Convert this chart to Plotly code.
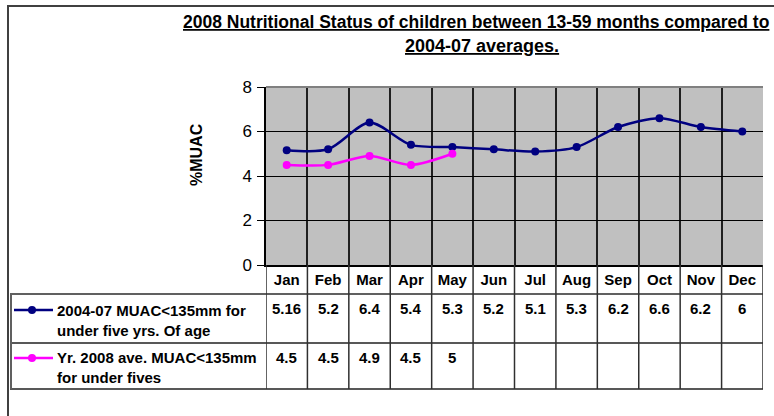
import plotly.graph_objects as go

months = ["Jan", "Feb", "Mar", "Apr", "May", "Jun", "Jul", "Aug", "Sep", "Oct", "Nov", "Dec"]
avg_0407 = [5.16, 5.2, 6.4, 5.4, 5.3, 5.2, 5.1, 5.3, 6.2, 6.6, 6.2, 6]
avg_2008 = [4.5, 4.5, 4.9, 4.5, 5]
avg_0407_label = ["2004-07 MUAC&lt;135mm for", "under five yrs. Of age"]
avg_2008_label = ["Yr. 2008 ave. MUAC&lt;135mm", "for under fives"]
title_lines = ["2008 Nutritional Status of children between 13-59 months compared to",
               "2004-07 averages."]
y_title = "%MUAC"
y_ticks = [0, 2, 4, 6, 8]

W, H = 774, 416
L, R, T, B = 266, 763, 87, 265


def px(x):
    return (x - L) / (R - L)


def py(y):
    return (B - y) / (B - T)


NAVY = "#000080"
MAG = "#FF00FF"
FONT = "Liberation Sans, Arial, sans-serif"

fig = go.Figure()
fig.add_trace(go.Scatter(x=months, y=avg_0407, mode="lines+markers",
                         line=dict(color=NAVY, width=2.5, shape="spline", smoothing=0.8),
                         marker=dict(size=8, color=NAVY), showlegend=False))
fig.add_trace(go.Scatter(x=months[:len(avg_2008)], y=avg_2008, mode="lines+markers",
                         line=dict(color=MAG, width=2.5, shape="spline", smoothing=0.8),
                         marker=dict(size=8, color=MAG), showlegend=False))

shapes = []
annotations = []

# outer frame (top and left)
shapes.append(dict(type="line", xref="paper", yref="paper", x0=px(7), x1=px(780), y0=py(6), y1=py(6),
                   line=dict(color="#404040", width=2)))
shapes.append(dict(type="line", xref="paper", yref="paper", x0=px(8), x1=px(8), y0=py(6), y1=py(420),
                   line=dict(color="#404040", width=2)))
# plot top border
shapes.append(dict(type="line", xref="paper", yref="paper", x0=0, x1=1, y0=1, y1=1,
                   line=dict(color="#808080", width=2)))

# table horizontal lines
for yy, w, c in [(294, 2, "#606060"), (343, 1.5, "#202020"), (389, 1.5, "#202020")]:
    shapes.append(dict(type="line", xref="paper", yref="paper", x0=px(10), x1=1, y0=py(yy), y1=py(yy),
                       line=dict(color=c, width=w)))
shapes.append(dict(type="line", xref="paper", yref="paper", x0=px(11), x1=px(11), y0=py(294), y1=py(389),
                   line=dict(color="#606060", width=2)))
# table vertical column lines
for k in range(len(months) + 1):
    shapes.append(dict(type="line", xref="x", yref="paper", x0=k - 0.5, x1=k - 0.5, y0=0, y1=py(389),
                       line=dict(color="#303030", width=1.5)))

# legend keys in table
for yy, col in [(310, NAVY), (358, MAG)]:
    shapes.append(dict(type="line", xref="paper", yref="paper", x0=px(14), x1=px(53), y0=py(yy), y1=py(yy),
                       line=dict(color=col, width=2.5)))
    shapes.append(dict(type="circle", xref="paper", yref="paper", xsizemode="pixel", ysizemode="pixel",
                       xanchor=px(32), yanchor=py(yy), x0=-4, x1=4, y0=-4, y1=4,
                       fillcolor=col, line=dict(color=col, width=0)))

# legend texts
for lines, y0 in [(avg_0407_label, 310), (avg_2008_label, 357)]:
    for j, t in enumerate(lines):
        annotations.append(dict(text=f"<b>{t}</b>", xref="paper", yref="paper", x=px(55), y=py(y0 + 20 * j),
                                xanchor="left", yanchor="middle", showarrow=False,
                                font=dict(family=FONT, size=15, color="black")))

# table values
for i, v in enumerate(avg_0407):
    annotations.append(dict(text=f"<b>{v:g}</b>", xref="x", yref="paper", x=i, y=py(308), showarrow=False,
                            xanchor="center", yanchor="middle", font=dict(family=FONT, size=15, color="black")))
for i, v in enumerate(avg_2008):
    annotations.append(dict(text=f"<b>{v:g}</b>", xref="x", yref="paper", x=i, y=py(357), showarrow=False,
                            xanchor="center", yanchor="middle", font=dict(family=FONT, size=15, color="black")))

# title
for t, yy, cx, fs in zip(title_lines, [22, 46], [476, 482], [17.5, 18]):
    annotations.append(dict(text=f"<b><u>{t}</u></b>", xref="paper", yref="paper", x=px(cx), y=py(yy),
                            xanchor="center", yanchor="middle", showarrow=False,
                            font=dict(family=FONT, size=fs, color="black")))

# y title
annotations.append(dict(text=f"<b>{y_title}</b>", xref="paper", yref="paper", x=px(196), y=py(155),
                        textangle=-90, showarrow=False, xanchor="center", yanchor="middle",
                        font=dict(family=FONT, size=16, color="black")))

fig.update_layout(
    width=W, height=H,
    margin=dict(l=L, r=W - R, t=T, b=H - B, pad=0),
    paper_bgcolor="white", plot_bgcolor="#C0C0C0",
    shapes=shapes, annotations=annotations,
    xaxis=dict(type="category", categoryorder="array", categoryarray=months, range=[-0.5, len(months) - 0.5],
               showgrid=True, gridcolor="#202020", gridwidth=1.5, tickson="boundaries", ticks="",
               showline=True, linecolor="black", linewidth=1.5, zeroline=False,
               tickfont=dict(family=FONT, size=15, color="black", weight="bold"), ticklabelstandoff=0),
    yaxis=dict(range=[0, 8], tickvals=y_ticks, showgrid=True, gridcolor="black", gridwidth=1,
               ticks="outside", ticklen=7, tickcolor="black", showline=True, linecolor="black", linewidth=1.5,
               zeroline=False, tickfont=dict(family=FONT, size=17, color="black"), ticklabelstandoff=2),
    font=dict(family=FONT),
)

fig.write_html("out.html", config={"displayModeBar": False},
               post_script="document.body.style.margin='0';document.body.style.overflow='hidden';")
